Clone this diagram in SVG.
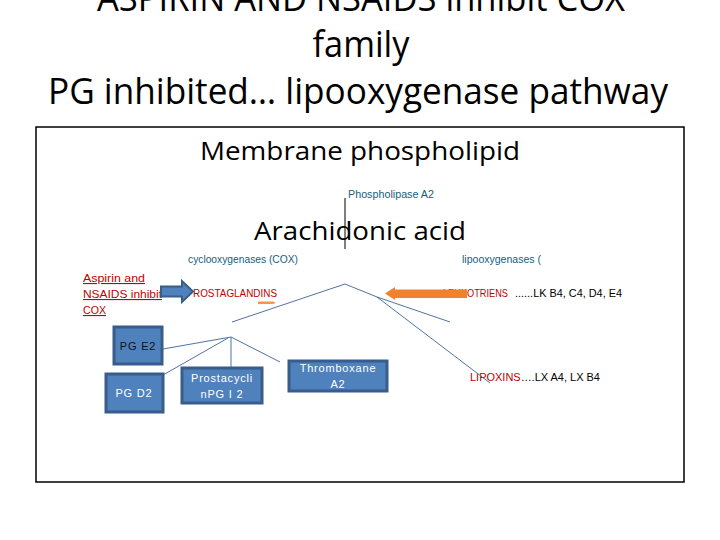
<svg xmlns="http://www.w3.org/2000/svg" width="720" height="540" viewBox="0 0 720 540">
<style>
.title{font-family:"Open Sans","Liberation Sans",sans-serif;font-size:36px;fill:#000;}
.big{font-family:"Open Sans","Liberation Sans",sans-serif;font-size:26px;fill:#000;}
.lbl{font-family:"Liberation Sans",sans-serif;font-size:10px;fill:#17607D;}
.red{font-family:"Liberation Sans",sans-serif;font-size:11px;fill:#C00000;}
.blk{font-family:"Liberation Sans",sans-serif;font-size:10.5px;fill:#000;}
.box{fill:#4F81BD;stroke:#385D8A;stroke-width:3;}
.bt{font-family:"Liberation Sans",sans-serif;font-size:11px;fill:#fff;letter-spacing:0.8px;text-anchor:middle;}
.ln{stroke:#4F74A0;stroke-width:1;fill:none;}
</style>
<rect width="720" height="540" fill="#fff"/>
<g id="title">
<text class="title" x="361" y="11" text-anchor="middle" textLength="528" lengthAdjust="spacingAndGlyphs">ASPIRIN AND NSAIDS inhibit COX</text>
<text class="title" x="361" y="57" text-anchor="middle" textLength="97" lengthAdjust="spacingAndGlyphs">family</text>
<text class="title" x="358" y="104" text-anchor="middle" textLength="620" lengthAdjust="spacingAndGlyphs">PG inhibited… lipooxygenase pathway</text>
</g>
<rect id="frame" x="36" y="127" width="648" height="355" fill="#fff" stroke="#000" stroke-width="1.5"/>
<g id="membrane"><text class="big" x="360" y="160" text-anchor="middle" textLength="320" lengthAdjust="spacingAndGlyphs">Membrane phospholipid</text></g>
<g id="pla2"><text class="lbl" x="348" y="198" textLength="86" lengthAdjust="spacingAndGlyphs">Phospholipase A2</text></g>
<g id="arachidonic"><text class="big" x="360" y="240" text-anchor="middle" textLength="212" lengthAdjust="spacingAndGlyphs">Arachidonic acid</text></g>
<g id="cox"><text class="lbl" x="188" y="263" textLength="110" lengthAdjust="spacingAndGlyphs">cyclooxygenases (COX)</text></g>
<g id="lox"><text class="lbl" x="462" y="263" textLength="79" lengthAdjust="spacingAndGlyphs">lipooxygenases (</text></g>
<g id="aspirin">
<text class="red" x="83" y="282" text-decoration="underline" textLength="62" lengthAdjust="spacingAndGlyphs">Aspirin and</text>
<text class="red" x="83" y="298" text-decoration="underline" textLength="79" lengthAdjust="spacingAndGlyphs">NSAIDS inhibit</text>
<text class="red" x="83" y="314" text-decoration="underline" textLength="23" lengthAdjust="spacingAndGlyphs">COX</text>
</g>
<g id="prostaglandins"><text class="red" x="193" y="297" textLength="84" lengthAdjust="spacingAndGlyphs">ROSTAGLANDINS</text></g>
<g id="leukotriens">
<text class="red" x="443" y="296.5" textLength="65" lengthAdjust="spacingAndGlyphs">LEUKOTRIENS</text>
<text class="blk" x="515" y="297" textLength="107" lengthAdjust="spacingAndGlyphs">......LK B4, C4, D4, E4</text>
</g>
<g id="lipoxins">
<text x="470" y="381" textLength="130" lengthAdjust="spacingAndGlyphs" style="font-family:'Liberation Sans',sans-serif;font-size:11px"><tspan fill="#C00000">LIPOXINS</tspan><tspan fill="#000">….LX A4, LX B4</tspan></text>
</g>
<g id="connectors">
<line class="ln" x1="345" y1="198" x2="345" y2="249" style="stroke:#000"/>
<polyline class="ln" points="232,322 345,284 377,297 450,322"/>
<line class="ln" x1="377" y1="297" x2="490" y2="383"/>
<line class="ln" x1="163" y1="349" x2="231" y2="337"/>
<line class="ln" x1="163" y1="375" x2="228" y2="338"/>
<line class="ln" x1="231" y1="337" x2="231" y2="367"/>
<line class="ln" x1="231" y1="337" x2="280" y2="362"/>
<path d="M161,286.5 H182 V281 L193,291.5 L182,302 V296.5 H161 Z" fill="#4F81BD" stroke="#385D8A" stroke-width="2"/>
<path d="M258,301.5 H273 L276,302.8 L273,304 H258 Z" fill="#F79646"/>
<path d="M467,289.5 H395 V287 L385,293.5 L395,300 V298 H467 Z" fill="#F0822E"/>
</g>
<g id="pge2"><rect class="box" x="114" y="327" width="48" height="37"/><text class="bt" x="138" y="350" style="fill:#111">PG E2</text></g>
<g id="pgd2"><rect class="box" x="106" y="374" width="57" height="38"/><text class="bt" x="134" y="397">PG D2</text></g>
<g id="prostacyclin"><rect class="box" x="182" y="368" width="80" height="35"/><text class="bt" x="222" y="382">Prostacycli</text><text class="bt" x="222" y="398">nPG I 2</text></g>
<g id="thromboxane"><rect class="box" x="289" y="361" width="98" height="30"/><text class="bt" x="338" y="372">Thromboxane</text><text class="bt" x="338" y="388">A2</text></g>
</svg>
